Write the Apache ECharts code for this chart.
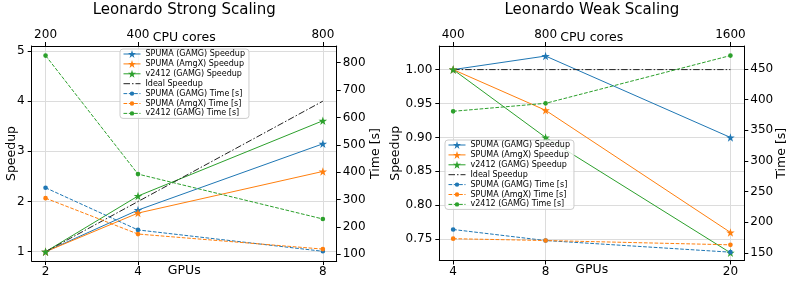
<!DOCTYPE html>
<html><head><meta charset="utf-8">
<script src="https://cdn.jsdelivr.net/npm/echarts@6/dist/echarts.min.js"></script>
<style>html,body{margin:0;padding:0;background:#fff}#c{width:793px;height:282px}</style>
</head><body><div id="c"></div>
<script>
// ---- data ----
const seriesNames = ['SPUMA (GAMG) Speedup','SPUMA (AmgX) Speedup','v2412 (GAMG) Speedup','Ideal Speedup',
  'SPUMA (GAMG) Time [s]','SPUMA (AmgX) Time [s]','v2412 (GAMG) Time [s]'];

const strongGpus = [2, 4, 8];
const strongCores = [200, 400, 800];
const strongSpumaGamgSpeedup = [1, 1.83, 3.15];
const strongSpumaAmgxSpeedup = [1, 1.77, 2.60];
const strongV2412Speedup = [1, 2.11, 3.61];
const strongIdeal = [1, 2, 4];
const strongSpumaGamgTime = [343, 189, 111];
const strongSpumaAmgxTime = [305, 174, 119];
const strongV2412Time = [826, 393, 229];
const strongSpeedupTicks = [1, 2, 3, 4, 5];
const strongTimeTicks = [100, 200, 300, 400, 500, 600, 700, 800];

const weakGpus = [4, 8, 20];
const weakCores = [400, 800, 1600];
const weakSpumaGamgSpeedup = [1, 1.02, 0.90];
const weakSpumaAmgxSpeedup = [1, 0.94, 0.76];
const weakV2412Speedup = [1, 0.90, 0.73];
const weakIdeal = [1, 1, 1];
const weakSpumaGamgTime = [188, 170, 151];
const weakSpumaAmgxTime = [173, 170, 163];
const weakV2412Time = [381, 394, 472];
const weakSpeedupTicks = [0.75, 0.80, 0.85, 0.90, 0.95, 1.00];
const weakTimeTicks = [150, 200, 250, 300, 350, 400, 450];

// ---- styling ----
const FONT = 'DejaVu Sans';
const C_BLUE = '#1f77b4', C_ORANGE = '#ff7f0e', C_GREEN = '#2ca02c';
const STAR = 'path://M0,-10 L2.245,-3.09 L9.511,-3.09 L3.633,1.18 L5.878,8.09 L0,3.82 L-5.878,8.09 L-3.633,1.18 L-9.511,-3.09 L-2.245,-3.09 Z';
const DOT = 'path://M-0.55,0 A0.55,0.55 0 1,0 0.55,0 A0.55,0.55 0 1,0 -0.55,0 Z M-1,-1 Z M1,1 Z';

function pairs(xs, ys) { return xs.map((x, i) => [x, ys[i]]); }

function xAxes(gi, cores, gpus, min, max) {
  const common = {
    gridIndex: gi, type: 'value', min: min, max: max,
    axisLine: {show: true, onZero: false, lineStyle: {color: '#000', width: 1}},
    axisTick: {show: true, length: 4, customValues: cores, lineStyle: {color: '#000'}},
    nameLocation: 'middle', nameMoveOverlap: false,
    nameTextStyle: {fontFamily: FONT, fontSize: 12.5, color: '#000'}
  };
  return [
    Object.assign({}, common, {
      position: 'bottom', name: 'GPUs', nameGap: 3,
      axisLabel: {customValues: cores, margin: 5, fontFamily: FONT, fontSize: 12, color: '#000',
        formatter: v => String(gpus[cores.indexOf(v)])},
      splitLine: {show: true, lineStyle: {color: '#dcdcdc', width: 1}}
    }),
    Object.assign({}, common, {
      position: 'top', name: 'CPU cores', nameGap: 2,
      axisLabel: {customValues: cores, margin: 5, fontFamily: FONT, fontSize: 12, color: '#000',
        formatter: v => String(v)},
      splitLine: {show: false}
    })
  ];
}

function yAxes(gi, sTicks, sMin, sMax, tTicks, tMin, tMax, dec, gapL, gapR) {
  return [
    {gridIndex: gi, type: 'value', position: 'left', min: sMin, max: sMax,
      name: 'Speedup', nameLocation: 'middle', nameGap: gapL, nameMoveOverlap: false,
      nameTextStyle: {fontFamily: FONT, fontSize: 12.5, color: '#000'},
      axisLine: {show: true, lineStyle: {color: '#000', width: 1}},
      axisTick: {show: true, length: 4, customValues: sTicks, lineStyle: {color: '#000'}},
      axisLabel: {customValues: sTicks, margin: 7, fontFamily: FONT, fontSize: 12, color: '#000',
        formatter: v => v.toFixed(dec)},
      splitLine: {show: true, lineStyle: {color: '#dcdcdc', width: 1}}
    },
    {gridIndex: gi, type: 'value', position: 'right', min: tMin, max: tMax,
      name: 'Time [s]', nameLocation: 'middle', nameGap: gapR, nameMoveOverlap: false,
      nameTextStyle: {fontFamily: FONT, fontSize: 12.5, color: '#000'},
      axisLine: {show: true, lineStyle: {color: '#000', width: 1}},
      axisTick: {show: true, length: 4, customValues: tTicks, lineStyle: {color: '#000'}},
      axisLabel: {customValues: tTicks, margin: 6, fontFamily: FONT, fontSize: 12, color: '#000',
        formatter: v => String(Math.round(v))},
      splitLine: {show: false}
    }
  ];
}

function seriesFor(xi, yi, cores, sp1, sp2, sp3, ideal, t1, t2, t3) {
  const sp = (name, data, color) => ({
    name, type: 'line', xAxisIndex: xi, yAxisIndex: yi, data: pairs(cores, data),
    symbol: STAR, symbolSize: 8.5, showSymbol: true, z: 2,
    lineStyle: {color, width: 1}, itemStyle: {color}, emphasis: {disabled: true}
  });
  const tm = (name, data, color) => ({
    name, type: 'line', xAxisIndex: xi, yAxisIndex: yi + 1, data: pairs(cores, data),
    symbol: DOT, symbolSize: 8.5, showSymbol: true, z: 3,
    lineStyle: {color, width: 1, type: [3.7, 1.6]}, itemStyle: {color}, emphasis: {disabled: true}
  });
  return [
    sp(seriesNames[0], sp1, C_BLUE),
    sp(seriesNames[1], sp2, C_ORANGE),
    sp(seriesNames[2], sp3, C_GREEN),
    {name: seriesNames[3], type: 'line', xAxisIndex: xi, yAxisIndex: yi, data: pairs(cores, ideal),
      symbol: 'none', z: 2, lineStyle: {color: '#222', width: 1, type: [6.5, 2, 1.5, 2]}, itemStyle: {color: '#222'},
      emphasis: {disabled: true}},
    tm(seriesNames[4], t1, C_BLUE),
    tm(seriesNames[5], t2, C_ORANGE),
    tm(seriesNames[6], t3, C_GREEN)
  ];
}

function legendAt(left, top) {
  return {
    left, top, orient: 'vertical', itemWidth: 17, itemHeight: 10, itemGap: 1.9,
    padding: [1, 4, 1, 3], backgroundColor: 'rgba(255,255,255,0.8)',
    borderColor: '#cccccc', borderWidth: 1, borderRadius: 3,
    textStyle: {fontFamily: FONT, fontSize: 8, color: '#000'},
    lineStyle: {width: 1},
    selectedMode: false,
    data: seriesNames.map(n => n === 'Ideal Speedup' ? {name: n, itemStyle: {opacity: 0}} : {name: n})
  };
}

const chart = echarts.init(document.getElementById('c'), null, {renderer: 'canvas'});
chart.setOption({
  animation: false,
  backgroundColor: '#fff',
  title: [
    {text: 'Leonardo Strong Scaling', left: 184.2, top: 2.5, textAlign: 'center', padding: 0,
      textStyle: {fontFamily: FONT, fontSize: 15, fontWeight: 'normal', color: '#000'}},
    {text: 'Leonardo Weak Scaling', left: 591.8, top: 2.5, textAlign: 'center', padding: 0,
      textStyle: {fontFamily: FONT, fontSize: 15, fontWeight: 'normal', color: '#000'}}
  ],
  grid: [
    {left: 31.7, top: 46, width: 305, height: 215, containLabel: false},
    {left: 439.3, top: 46, width: 305, height: 214.5, containLabel: false}
  ],
  legend: [legendAt(120, 49), legendAt(445, 140)],
  xAxis: [].concat(
    xAxes(0, strongCores, strongGpus, 170, 830),
    xAxes(1, weakCores, weakGpus, 340, 1660)
  ),
  yAxis: [].concat(
    yAxes(0, strongSpeedupTicks, 0.815, 5.1, strongTimeTicks, 75.5, 861, 0, 13, 33),
    yAxes(1, weakSpeedupTicks, 0.7186, 1.0348, weakTimeTicks, 137.4, 487.6, 2, 37, 31)
  ),
  series: [].concat(
    seriesFor(0, 0, strongCores, strongSpumaGamgSpeedup, strongSpumaAmgxSpeedup, strongV2412Speedup, strongIdeal,
      strongSpumaGamgTime, strongSpumaAmgxTime, strongV2412Time),
    seriesFor(2, 2, weakCores, weakSpumaGamgSpeedup, weakSpumaAmgxSpeedup, weakV2412Speedup, weakIdeal,
      weakSpumaGamgTime, weakSpumaAmgxTime, weakV2412Time)
  )
});
</script>
</body></html>
